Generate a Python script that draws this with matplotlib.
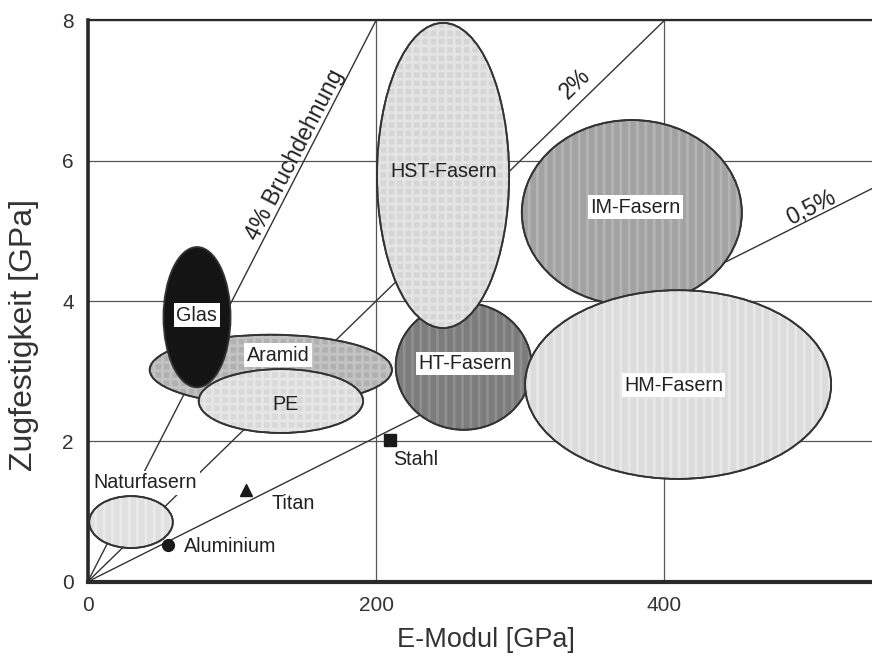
import numpy as np
import matplotlib
matplotlib.use("Agg")
import matplotlib.pyplot as plt
from matplotlib.patches import Ellipse

plt.rcParams['font.family'] = ['Liberation Sans', 'DejaVu Sans']
plt.rcParams['hatch.linewidth'] = 2.0

# fibre regions: centre (E, sigma), width (E), height (sigma)
fibre_names = ['Aramid', 'Glas', 'PE', 'Naturfasern', 'HT-Fasern', 'HST-Fasern', 'IM-Fasern', 'HM-Fasern']
fibre_e = [127, 75.8, 134, 30, 260.8, 246.5, 377.4, 409.5]
fibre_sigma = [3.02, 3.77, 2.575, 0.85, 3.07, 5.79, 5.26, 2.81]
fibre_w = [168, 46.5, 114, 58, 94.3, 91.6, 152.6, 212.3]
fibre_h = [1.0, 2.0, 0.91, 0.74, 1.81, 4.35, 2.64, 2.69]
fibre_fill = ['#b0b0b0', '#141414', '#d9d9d9', '#e0e0e0', '#7c7c7c', '#d6d6d6', '#a2a2a2', '#dcdcdc']
fibre_hatch = ['++', None, '++', '||', '||', '++', '||', '||']
fibre_tex_alpha = [0.25, 0, 0.35, 0.35, 0.15, 0.35, 0.2, 0.35]

# label positions for the fibre regions
label_e = [132, 75.6, 136.9, 40, 261.7, 246.7, 379.7, 406.3]
label_sigma = [3.23, 3.80, 2.52, 1.41, 3.11, 5.84, 5.34, 2.80]
label_box = [True, True, False, True, True, False, True, True]

# metals
metal_names = ['Aluminium', 'Titan', 'Stahl']
metal_e = [56, 110, 209.5]
metal_sigma = [0.52, 1.31, 2.02]
metal_marker = ['o', '^', 's']
metal_text_e = [67, 127.6, 211.6]
metal_text_sigma = [0.5, 1.12, 1.74]

# lines of constant strain
strain_labels = ['4% Bruchdehnung', '2%', '0,5%']
strain_slopes = [0.04, 0.02, 0.0103]
strain_text_e = [143.8, 338, 501.6]
strain_text_sigma = [6.08, 7.10, 5.325]

x_max = 544
y_max = 8

fig = plt.figure(figsize=(8.72, 6.59), dpi=100)
ax = fig.add_axes([0.1006, 0.1173, 0.8994, 0.8517])
ax.set_xlim(0, x_max)
ax.set_ylim(0, y_max)

ax.set_xticks([0, 200, 400])
ax.set_yticks([0, 2, 4, 6, 8])
ax.tick_params(length=0, labelsize=15, colors='#333333', pad=10)
ax.grid(True, color='#555555', linewidth=0.9, zorder=0)
ax.set_axisbelow(True)

ax.spines['right'].set_visible(False)
ax.spines['top'].set_linewidth(1.6)
ax.spines['left'].set_linewidth(2.6)
ax.spines['bottom'].set_linewidth(3.0)
for s in ['top', 'left', 'bottom']:
    ax.spines[s].set_color('#2a2a2a')

# strain lines
for slope in strain_slopes:
    ax.plot([0, x_max], [0, slope * x_max], color='#333333', linewidth=1.0, zorder=1)

# fibre ellipses
for i, name in enumerate(fibre_names):
    ell = Ellipse((fibre_e[i], fibre_sigma[i]), fibre_w[i], fibre_h[i],
                  facecolor=fibre_fill[i], edgecolor='#333333', linewidth=1.3, zorder=2 + i)
    ax.add_patch(ell)
    if fibre_hatch[i]:
        tex = Ellipse((fibre_e[i], fibre_sigma[i]), fibre_w[i], fibre_h[i],
                      facecolor='none', edgecolor='white', alpha=fibre_tex_alpha[i], linewidth=0,
                      hatch=fibre_hatch[i], zorder=2 + i)
        ax.add_patch(tex)
        edge = Ellipse((fibre_e[i], fibre_sigma[i]), fibre_w[i], fibre_h[i],
                       facecolor='none', edgecolor='#333333', linewidth=1.3, zorder=2 + i)
        ax.add_patch(edge)

for i, name in enumerate(fibre_names):
    box = dict(boxstyle='square,pad=0.12', fc='white', ec='none') if label_box[i] else None
    ax.text(label_e[i], label_sigma[i], name, ha='center', va='center',
            fontsize=14.2, color='#222222', bbox=box, zorder=20)

# metals
for i, name in enumerate(metal_names):
    ax.plot(metal_e[i], metal_sigma[i], marker=metal_marker[i], color='#1a1a1a',
            markersize=8.5, linestyle='none', zorder=15)
    ax.text(metal_text_e[i], metal_text_sigma[i], name, ha='left', va='center',
            fontsize=14.2, color='#222222', zorder=20)

# strain line labels
for i, lab in enumerate(strain_labels):
    ang = ax.transData.transform_angles(np.array([np.degrees(np.arctan(strain_slopes[i]))]),
                                        np.array([[strain_text_e[i], strain_text_sigma[i]]]))[0]
    ax.text(strain_text_e[i], strain_text_sigma[i], lab, ha='center', va='center',
            rotation=ang, rotation_mode='anchor', fontsize=16.5, color='#222222', zorder=20)

ax.set_xlabel('E-Modul [GPa]', fontsize=19.5, color='#333333')
ax.set_ylabel('Zugfestigkeit [GPa]', fontsize=23, color='#333333')
ax.xaxis.set_label_coords(0.508, -0.081)
ax.yaxis.set_label_coords(-0.062, 0.4397)

fig.savefig('out.png', dpi=100)
